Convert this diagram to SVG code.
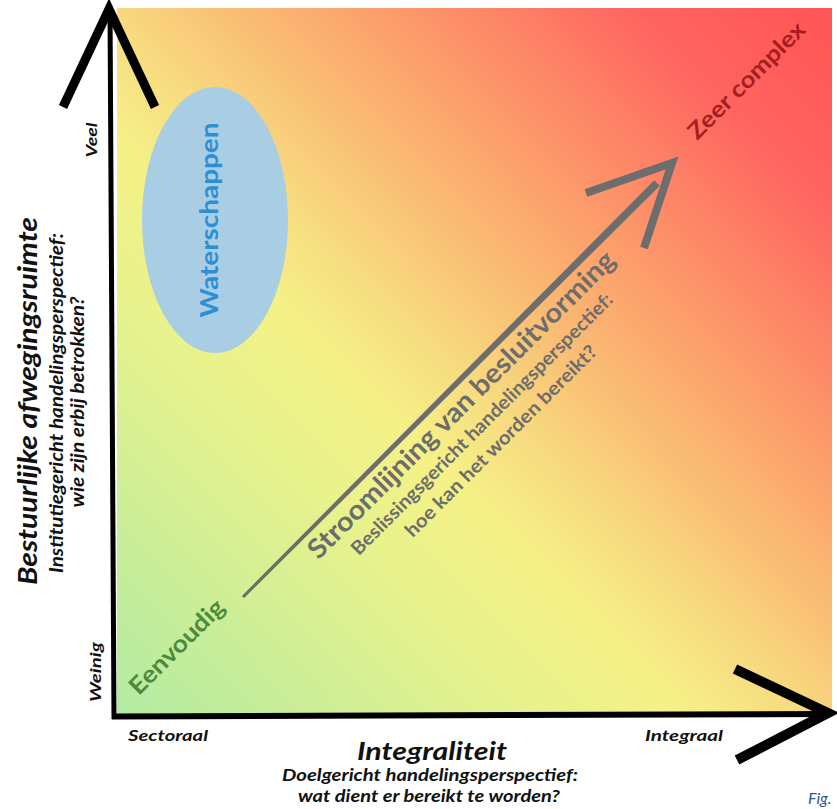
<svg xmlns="http://www.w3.org/2000/svg" width="837" height="809" viewBox="0 0 837 809">
  <defs>
    <linearGradient id="bg" gradientUnits="userSpaceOnUse" x1="117" y1="714" x2="832" y2="8">
      <stop offset="0" stop-color="#b2eba2"/>
      <stop offset="0.15" stop-color="#cdee96"/>
      <stop offset="0.3" stop-color="#e8f28c"/>
      <stop offset="0.4" stop-color="#f5f187"/>
      <stop offset="0.48" stop-color="#f7dc80"/>
      <stop offset="0.56" stop-color="#f9c276"/>
      <stop offset="0.66" stop-color="#fca36c"/>
      <stop offset="0.76" stop-color="#fd8466"/>
      <stop offset="0.86" stop-color="#ff6460"/>
      <stop offset="1" stop-color="#ff5555"/>
    </linearGradient>
  </defs>
  <style>
    text { font-family: Lato, "Open Sans", "DejaVu Sans", sans-serif; }
    .bi { font-weight: bold; font-style: italic; fill: #111; }
    .b { font-weight: bold; }
    .axis { fill: none; stroke: #000; stroke-linejoin: miter; stroke-miterlimit: 20; stroke-linecap: butt; }
    .gray { fill: #6d6d6d; }
  </style>

  <rect x="0" y="0" width="837" height="809" fill="#ffffff"/>
  <rect id="plot" x="117" y="8" width="715" height="706" fill="url(#bg)"/>

  <g id="connectors">
    <line class="axis" x1="110" y1="8" x2="114" y2="719" stroke-width="5"/>
    <polyline class="axis" points="63,107 109,9 155,107" stroke-width="9"/>
    <line class="axis" x1="112" y1="716.5" x2="830" y2="714" stroke-width="6"/>
    <polyline class="axis" points="735,669 828,713 737,760" stroke-width="10"/>
    <polygon class="gray" points="241.9,595.9 244.1,598.1 659.8,185.8 654.2,180.2"/>
    <polyline points="586,193 672,163 644,248" fill="none" stroke="#6d6d6d" stroke-width="8" stroke-linejoin="miter" stroke-miterlimit="20"/>
  </g>

  <g id="waterschappen">
    <ellipse cx="215" cy="220" rx="73" ry="133" fill="#a9cde3"/>
    <text class="b" transform="translate(218,220) rotate(-90)" text-anchor="middle" font-size="25" fill="#2d8fd5" textLength="195" lengthAdjust="spacingAndGlyphs">Waterschappen</text>
  </g>

  <g id="y-axis-labels">
    <text class="bi" transform="translate(37,401) rotate(-90)" text-anchor="middle" font-size="27" textLength="368" lengthAdjust="spacingAndGlyphs">Bestuurlijke afwegingsruimte</text>
    <text class="bi" transform="translate(63,403) rotate(-90)" text-anchor="middle" font-size="18" textLength="340" lengthAdjust="spacingAndGlyphs">Institutiegericht handelingsperspectief:</text>
    <text class="bi" transform="translate(84,402) rotate(-90)" text-anchor="middle" font-size="18" textLength="211" lengthAdjust="spacingAndGlyphs">wie zijn erbij betrokken?</text>
    <text class="bi" transform="translate(97,140) rotate(-90)" text-anchor="middle" font-size="16" textLength="35" lengthAdjust="spacingAndGlyphs">Veel</text>
    <text class="bi" transform="translate(101,672) rotate(-90)" text-anchor="middle" font-size="16" textLength="60" lengthAdjust="spacingAndGlyphs">Weinig</text>
  </g>

  <g id="x-axis-labels">
    <text class="bi" x="128" y="741" font-size="16" textLength="80" lengthAdjust="spacingAndGlyphs">Sectoraal</text>
    <text class="bi" x="645" y="741" font-size="16" textLength="78" lengthAdjust="spacingAndGlyphs">Integraal</text>
    <text class="bi" x="432" y="760" text-anchor="middle" font-size="25" textLength="150" lengthAdjust="spacingAndGlyphs">Integraliteit</text>
    <text class="bi" x="430" y="781" text-anchor="middle" font-size="17" textLength="296" lengthAdjust="spacingAndGlyphs">Doelgericht handelingsperspectief:</text>
    <text class="bi" x="429" y="802" text-anchor="middle" font-size="17" textLength="262" lengthAdjust="spacingAndGlyphs">wat dient er bereikt te worden?</text>
  </g>

  <g id="eenvoudig">
    <text class="b" transform="translate(182.5,652.5) rotate(-45)" text-anchor="middle" font-size="24" fill="#4f8a3c" textLength="124" lengthAdjust="spacingAndGlyphs">Eenvoudig</text>
  </g>

  <g id="zeer-complex">
    <text class="b" transform="translate(752,86) rotate(-45)" text-anchor="middle" font-size="23" fill="#a51e22" textLength="155" lengthAdjust="spacingAndGlyphs">Zeer complex</text>
  </g>

  <g id="stroomlijning">
    <text class="b gray" transform="translate(467.7,411.2) rotate(-45)" text-anchor="middle" font-size="27" textLength="422" lengthAdjust="spacingAndGlyphs">Stroomlijning van besluitvorming</text>
    <text class="b gray" transform="translate(486.5,428.5) rotate(-45)" text-anchor="middle" font-size="19" textLength="361" lengthAdjust="spacingAndGlyphs">Beslissingsgericht handelingsperspectief:</text>
    <text class="b gray" transform="translate(505.5,445.5) rotate(-45)" text-anchor="middle" font-size="19" textLength="262" lengthAdjust="spacingAndGlyphs">hoe kan het worden bereikt?</text>
  </g>

  <text x="808" y="804" font-size="16" font-style="italic" fill="#2f5496">Fig.</text>
</svg>
